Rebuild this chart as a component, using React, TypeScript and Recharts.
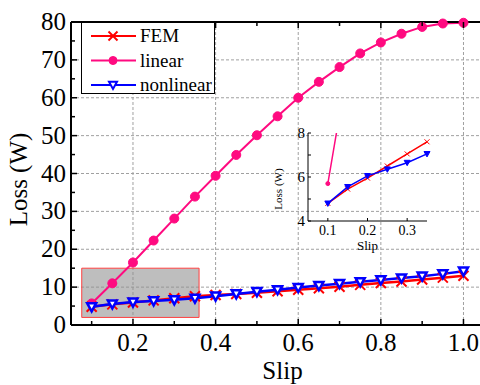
import React from 'react';
import { LineChart, Line, XAxis, YAxis, CartesianGrid, Legend, ReferenceArea } from 'recharts';

const slip = [0.1, 0.15, 0.2, 0.25, 0.3, 0.35, 0.4, 0.45, 0.5, 0.55, 0.6, 0.65, 0.7, 0.75, 0.8, 0.85, 0.9, 0.95, 1.0];
const femLoss = [4.8, 5.45, 5.95, 6.5, 7.05, 7.6, 7.9, 8.2, 8.5, 8.9, 9.3, 9.7, 10.1, 10.6, 11.1, 11.5, 12.0, 12.5, 13.0];
const linearLoss = [5.7, 11.0, 16.5, 22.3, 28.1, 33.9, 39.4, 44.9, 50.1, 55.1, 60.0, 64.2, 68.1, 71.7, 74.6, 76.9, 78.7, 79.6, 79.8];
const nonlinearLoss = [4.8, 5.55, 6.05, 6.35, 6.65, 7.05, 7.6, 8.2, 8.8, 9.3, 9.9, 10.4, 10.9, 11.4, 11.9, 12.4, 12.9, 13.5, 14.2];

const xTicks = [0.1, 0.2, 0.3, 0.4, 0.5, 0.6, 0.7, 0.8, 0.9, 1.0];
const xGrid = [0.2, 0.4, 0.6, 0.8, 1.0];
const yTicks = [0, 5, 10, 15, 20, 25, 30, 35, 40, 45, 50, 55, 60, 65, 70, 75, 80];
const yGrid = [10, 20, 30, 40, 50, 60, 70];
const insetXTicks = [0.1, 0.2, 0.3];
const insetYTicks = [4, 5, 6, 7, 8];

const rows = slip.map((s, i) => ({ slip: s, fem: femLoss[i], linear: linearLoss[i], nonlinear: nonlinearLoss[i] }));
const insetRows = rows.filter((r) => r.slip <= 0.35);

const FONT = '"Liberation Serif", "Times New Roman", serif';
const RED = '#ff0000';
const PINK = '#ff0a80';
const BLUE = '#0000ff';

const Cross = ({ cx, cy, s = 5, color = RED, w = 2 }: any) => (
  <g>
    <line x1={cx - s} y1={cy - s} x2={cx + s} y2={cy + s} stroke={color} strokeWidth={w} />
    <line x1={cx - s} y1={cy + s} x2={cx + s} y2={cy - s} stroke={color} strokeWidth={w} />
  </g>
);

const Tri = ({ cx, cy, s = 5, color = BLUE, fill = '#fff', w = 2 }: any) => (
  <polygon points={`${cx - s},${cy - s * 0.8} ${cx + s},${cy - s * 0.8} ${cx},${cy + s}`} fill={fill} stroke={color} strokeWidth={w} />
);

const Dot = ({ cx, cy, r = 4.5, color = PINK }: any) => <circle cx={cx} cy={cy} r={r} fill={color} stroke={color} />;

const isMajorX = (v: number) => Math.round(v * 10) % 2 === 0;

const MainXTick = ({ x, y, payload }: any) => {
  const v = payload.value;
  const major = isMajorX(v);
  const y0 = y - 5;
  return (
    <g>
      <line x1={x} x2={x} y1={y0} y2={y0 - (major ? 6 : 4)} stroke="#000" strokeWidth={1.5} />
      {major && (
        <text x={x} y={y0} dy={26} textAnchor="middle" fontSize={25} fontFamily={FONT} fill="#000">
          {v.toFixed(1)}
        </text>
      )}
    </g>
  );
};

const TopXTick = ({ x, y, payload }: any) => {
  const major = isMajorX(payload.value);
  return <line x1={x} x2={x} y1={y} y2={y + (major ? 6 : 4)} stroke="#000" strokeWidth={1.5} />;
};

const MainYTick = ({ x, y, payload }: any) => {
  const v = payload.value;
  const major = v % 10 === 0;
  const x0 = x + 5;
  return (
    <g>
      <line x1={x0} x2={x0 + (major ? 6 : 4)} y1={y} y2={y} stroke="#000" strokeWidth={1.5} />
      {major && (
        <text x={x} y={y} dy={8} textAnchor="end" fontSize={25} fontFamily={FONT} fill="#000">
          {v}
        </text>
      )}
    </g>
  );
};

const InsetXTick = ({ x, y, payload }: any) => (
  <g>
    <line x1={x} x2={x} y1={y - 3} y2={y - 6} stroke="#000" strokeWidth={1} />
    <text x={x} y={y - 3} dy={14} textAnchor="middle" fontSize={14} fontFamily={FONT} fill="#000">
      {payload.value.toFixed(1)}
    </text>
  </g>
);

const InsetYTick = ({ x, y, payload }: any) => {
  const v = payload.value;
  const major = v % 2 === 0;
  return (
    <g>
      <line x1={x + 3} x2={x + 6} y1={y} y2={y} stroke="#000" strokeWidth={1} />
      {major && (
        <text x={x} y={y} dy={5} textAnchor="end" fontSize={15} fontFamily={FONT} fill="#000">
          {v}
        </text>
      )}
    </g>
  );
};

const legendItems = [
  { name: 'FEM', color: RED, kind: 'cross' },
  { name: 'linear', color: PINK, kind: 'dot' },
  { name: 'nonlinear', color: BLUE, kind: 'tri' },
];

const renderLegend = () => (
  <div style={{ width: 134, height: 72, border: '1.5px solid #000', background: '#fff', boxSizing: 'border-box' }}>
    <svg width={134} height={72} style={{ display: 'block' }}>
      {legendItems.map((it, i) => {
        const cy = 13 + i * 24.5;
        return (
          <g key={it.name}>
            <line x1={9} x2={54} y1={cy} y2={cy} stroke={it.color} strokeWidth={2} />
            {it.kind === 'cross' && <Cross cx={31} cy={cy} s={4.5} />}
            {it.kind === 'dot' && <Dot cx={31} cy={cy} r={4} />}
            {it.kind === 'tri' && <Tri cx={31} cy={cy} s={4} />}
            <text x={58} y={cy + 6} fontSize={19} fontFamily={FONT} fill="#000">
              {it.name}
            </text>
          </g>
        );
      })}
    </svg>
  </div>
);

export default function App() {
  return (
    <div style={{ position: 'absolute', left: 0, top: 0, width: 480, height: 385, background: '#fff' }}>
      <LineChart width={480} height={385} data={rows} margin={{ top: 0, right: 0, left: 0, bottom: 0 }}>
        <CartesianGrid
          stroke="#a0a0a0"
          strokeDasharray="3 2"
          horizontalValues={yGrid}
          verticalValues={xGrid}
        />
        <ReferenceArea x1={0.076} x2={0.36} y1={2} y2={15} fill="#8f8f8f" fillOpacity={0.58} stroke="#ff4040" strokeWidth={1} />
        <XAxis
          type="number"
          dataKey="slip"
          domain={[0.05, 1.04]}
          ticks={xTicks}
          height={60}
          axisLine={{ stroke: '#000', strokeWidth: 2 }}
          tickLine={false}
          tickSize={0}
          tickMargin={5}
          tick={<MainXTick />}
          interval={0}
          label={{ value: 'Slip', position: 'insideBottom', offset: 6, dx: 7, fontSize: 25, fontFamily: FONT, fill: '#000' }}
        />
        <XAxis
          xAxisId="top"
          orientation="top"
          type="number"
          dataKey="slip"
          domain={[0.05, 1.04]}
          ticks={xTicks}
          height={22}
          axisLine={{ stroke: '#000', strokeWidth: 2 }}
          tickLine={false}
          tickSize={0}
          tickMargin={0}
          tick={<TopXTick />}
          interval={0}
        />
        <YAxis
          type="number"
          domain={[0, 80]}
          ticks={yTicks}
          width={71}
          axisLine={{ stroke: '#000', strokeWidth: 2 }}
          tickLine={false}
          tickSize={0}
          tickMargin={5}
          tick={<MainYTick />}
          interval={0}
          label={{ value: 'Loss (W)', angle: -90, position: 'insideLeft', offset: 18, dy: 6, fontSize: 25, fontFamily: FONT, fill: '#000', style: { textAnchor: 'middle' } }}
        />
        <Legend verticalAlign="middle" align="center" layout="vertical" wrapperStyle={{ left: 81, top: 22, width: 134, position: 'absolute' }} content={renderLegend} />
        <Line dataKey="linear" name="linear" stroke={PINK} strokeWidth={2} isAnimationActive={false} dot={(p: any) => <Dot key={p.index} cx={p.cx} cy={p.cy} />} />
        <Line dataKey="fem" name="FEM" stroke={RED} strokeWidth={2.5} isAnimationActive={false} dot={(p: any) => <Cross key={p.index} cx={p.cx} cy={p.cy} />} />
        <Line dataKey="nonlinear" name="nonlinear" stroke={BLUE} strokeWidth={2.5} isAnimationActive={false} dot={(p: any) => <Tri key={p.index} cx={p.cx} cy={p.cy} s={4.5} w={2.5} />} />
      </LineChart>
      <div style={{ position: 'absolute', left: 240, top: 110 }}>
        <LineChart width={200} height={150} data={insetRows} margin={{ top: 23, right: 13, left: 0, bottom: 0 }}>
          <XAxis
            type="number"
            dataKey="slip"
            domain={[0.05, 0.35]}
            ticks={insetXTicks}
            height={39}
            axisLine={{ stroke: '#000', strokeWidth: 1 }}
            tickLine={false}
            tickSize={0}
            tickMargin={3}
            tick={<InsetXTick />}
            interval={0}
            label={{ value: 'Slip', position: 'insideBottom', offset: 10, fontSize: 13, fontFamily: FONT, fill: '#000' }}
          />
          <YAxis
            type="number"
            domain={[4, 8]}
            allowDataOverflow
            ticks={insetYTicks}
            width={68}
            axisLine={{ stroke: '#000', strokeWidth: 1 }}
            tickLine={false}
            tickSize={0}
            tickMargin={3}
            tick={<InsetYTick />}
            interval={0}
            label={{ value: 'Loss (W)', angle: -90, position: 'insideLeft', offset: 38, dy: 12, fontSize: 11, fontFamily: FONT, fill: '#000', style: { textAnchor: 'middle' } }}
          />
          <Line dataKey="linear" stroke={PINK} strokeWidth={1.5} isAnimationActive={false} dot={(p: any) => <Dot key={p.index} cx={p.cx} cy={p.cy} r={2} />} />
          <Line dataKey="fem" stroke={RED} strokeWidth={1.5} isAnimationActive={false} dot={(p: any) => <Cross key={p.index} cx={p.cx} cy={p.cy} s={2.5} w={1} />} />
          <Line dataKey="nonlinear" stroke={BLUE} strokeWidth={1.5} isAnimationActive={false} dot={(p: any) => <Tri key={p.index} cx={p.cx} cy={p.cy} s={3} fill={BLUE} w={1} />} />
        </LineChart>
      </div>
    </div>
  );
}
